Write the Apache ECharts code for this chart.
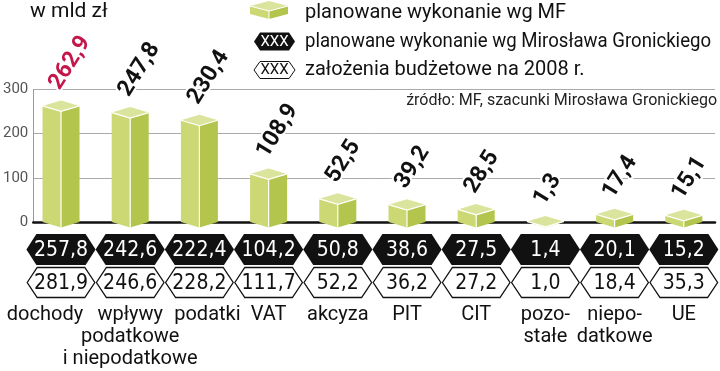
<!DOCTYPE html>
<html>
<head>
<meta charset="utf-8">
<script src="https://cdn.jsdelivr.net/npm/echarts@6/dist/echarts.min.js"></script>
<style>
  html, body { margin: 0; padding: 0; background: #fff; }
  #chart { width: 720px; height: 371px; }
</style>
</head>
<body>
<div id="chart"></div>
<script>
const categories = ['dochody', 'wpływy\npodatkowe\ni niepodatkowe', 'podatki', 'VAT', 'akcyza', 'PIT', 'CIT', 'pozo-\nstałe', 'niepo-\ndatkowe', 'UE'];
const mfValues = [262.9, 247.8, 230.4, 108.9, 52.5, 39.2, 28.5, 1.3, 17.4, 15.1];
const gronickiValues = [257.8, 242.6, 222.4, 104.2, 50.8, 38.6, 27.5, 1.4, 20.1, 15.2];
const budgetValues = [281.9, 246.6, 228.2, 111.7, 52.2, 36.2, 27.2, 1.0, 18.4, 35.3];
const yTicks = [0, 100, 200, 300];
const legendNames = ['planowane wykonanie wg MF', 'planowane wykonanie wg Mirosława Gronickiego', 'założenia budżetowe na 2008 r.'];
const unitLabel = 'w mld zł';
const sourceLabel = 'źródło: MF, szacunki Mirosława Gronickiego';

const DJ = "'DejaVu Sans', sans-serif";
const SANS = "Roboto, 'Noto Sans', sans-serif";
const fmt = v => v.toFixed(1).replace('.', ',');
const TOP_C = '#dbe49c', LEFT_C = '#cbd873', RIGHT_C = '#b3c54c';

function hexPts(cx, cy, hw, hh, ind) {
  return [[cx - hw, cy], [cx - hw + ind, cy - hh], [cx + hw - ind, cy - hh], [cx + hw, cy], [cx + hw - ind, cy + hh], [cx - hw + ind, cy + hh]];
}

function renderBar(params, api) {
  const i = api.value(0), v = api.value(1);
  const top = api.coord([i, v]);
  const base = api.coord([i, 0]);
  const cx = top[0], cy = top[1], by = base[1];
  const hw = 18.5, hh = 5.5;
  return {
    type: 'group',
    children: [
      { type: 'polygon', shape: { points: [[cx - hw, cy], [cx, cy + hh], [cx, by + hh], [cx - hw, by]] }, style: { fill: LEFT_C } },
      { type: 'polygon', shape: { points: [[cx, cy + hh], [cx + hw, cy], [cx + hw, by], [cx, by + hh]] }, style: { fill: RIGHT_C } },
      { type: 'polygon', shape: { points: [[cx - hw, cy], [cx, cy - hh], [cx + hw, cy], [cx, cy + hh]] }, style: { fill: TOP_C } },
      { type: 'polyline', shape: { points: [[cx - hw, cy], [cx, cy + hh], [cx + hw, cy]] }, style: { stroke: '#fff', lineWidth: 1.2, fill: null } },
      { type: 'line', shape: { x1: cx, y1: cy + hh, x2: cx, y2: by + hh }, style: { stroke: '#fff', lineWidth: 1.2 } }
    ]
  };
}

function makeHexRender(offset, dark) {
  return function (params, api) {
    const i = api.value(0), v = api.value(1);
    const base = api.coord([i, 0]);
    const bw = api.size([1, 0])[0];
    const cx = base[0], cy = base[1] + offset;
    const hw = bw / 2 - (dark ? 0 : 0.8);
    return {
      type: 'group',
      children: [
        { type: 'polygon', shape: { points: hexPts(cx, cy, hw, dark ? 15.5 : 15, 10) },
          style: dark ? { fill: '#111' } : { fill: '#fff', stroke: '#111', lineWidth: 1.3 } },
        { type: 'text', x: cx, y: cy + 0.5, scaleX: 0.86,
          style: { text: fmt(v), align: 'center', verticalAlign: 'middle', font: '22px ' + DJ, fill: dark ? '#fff' : '#111' } }
      ]
    };
  };
}

const chart = echarts.init(document.getElementById('chart'), null, { renderer: 'canvas' });

const legendGraphics = [
  { type: 'polygon', shape: { points: [[250, 6], [250, 14], [269, 19], [269, 11]] }, style: { fill: LEFT_C } },
  { type: 'polygon', shape: { points: [[269, 11], [269, 19], [288, 14], [288, 6]] }, style: { fill: RIGHT_C } },
  { type: 'polygon', shape: { points: [[250, 6], [269, 1], [288, 6], [269, 11]] }, style: { fill: TOP_C } },
  { type: 'polyline', shape: { points: [[250, 6], [269, 11], [288, 6]] }, style: { stroke: '#fff', lineWidth: 1, fill: null } },
  { type: 'line', shape: { x1: 269, y1: 11, x2: 269, y2: 19 }, style: { stroke: '#fff', lineWidth: 1 } },
  { type: 'polygon', shape: { points: hexPts(274.5, 41.5, 20.5, 9, 6) }, style: { fill: '#111' } },
  { type: 'text', x: 274.5, y: 42, style: { text: 'XXX', align: 'center', verticalAlign: 'middle', font: '15px ' + SANS, fill: '#fff' } },
  { type: 'polygon', shape: { points: hexPts(274.5, 70, 20.5, 8.5, 6) }, style: { fill: '#fff', stroke: '#111', lineWidth: 1 } },
  { type: 'text', x: 274.5, y: 70.5, style: { text: 'XXX', align: 'center', verticalAlign: 'middle', font: '15px ' + SANS, fill: '#111' } },
  { type: 'text', x: 305, y: 13, style: { text: legendNames[0], align: 'left', verticalAlign: 'middle', font: '20px ' + SANS, fill: '#111' } },
  { type: 'text', x: 305, y: 42, scaleX: 0.93, style: { text: legendNames[1], align: 'left', verticalAlign: 'middle', font: '20px ' + SANS, fill: '#111' } },
  { type: 'text', x: 305, y: 70, style: { text: legendNames[2], align: 'left', verticalAlign: 'middle', font: '20px ' + SANS, fill: '#111' } },
  { type: 'text', x: 30, y: 12, style: { text: unitLabel, align: 'left', verticalAlign: 'middle', font: '21px ' + SANS, fill: '#111' } },
  { type: 'text', x: 717, y: 101, style: { text: sourceLabel, align: 'right', verticalAlign: 'middle', font: '16px ' + SANS, fill: '#222' } }
];

chart.setOption({
  animation: false,
  backgroundColor: '#fff',
  grid: [
    { left: 33, right: 5, top: 89.5, bottom: 149 },
    { left: 26.4, right: 1.6, top: 89.5, bottom: 149 }
  ],
  xAxis: [
    { gridIndex: 0, type: 'value', min: 0, max: 1, axisLine: { show: true, onZero: true, lineStyle: { color: '#111', width: 2.5 } },
      axisTick: { show: false }, axisLabel: { show: false }, splitLine: { show: false } },
    { gridIndex: 1, type: 'category', data: categories, axisLine: { show: false }, axisTick: { show: false },
      axisLabel: {
        interval: 0, margin: 82, fontSize: 20, lineHeight: 22, color: '#111', fontFamily: SANS, align: 'center',
        formatter: function (value, index) {
          if (index === 0) return '{l|' + value + '}';
          if (index === 2) return '{r|' + value + '}';
          return value;
        },
        rich: {
          l: { fontSize: 20, lineHeight: 22, color: '#111', fontFamily: SANS, padding: [0, 32, 0, 0] },
          r: { fontSize: 20, lineHeight: 22, color: '#111', fontFamily: SANS, padding: [0, 0, 0, 16] }
        }
      } }
  ],
  yAxis: [
    { gridIndex: 0, type: 'value', min: yTicks[0], max: yTicks[yTicks.length - 1], interval: 100,
      axisLine: { show: true, lineStyle: { color: '#999', width: 1 } }, axisTick: { show: false },
      axisLabel: { margin: 5, fontSize: 15, color: '#555', fontFamily: SANS },
      splitLine: { show: true, lineStyle: { color: '#aaa', width: 1 } } },
    { gridIndex: 1, type: 'value', min: yTicks[0], max: yTicks[yTicks.length - 1], show: false, splitLine: { show: false } }
  ],
  series: [
    { name: legendNames[0], type: 'custom', xAxisIndex: 1, yAxisIndex: 1, renderItem: renderBar,
      data: mfValues.map((v, i) => [i, v]), z: 5 },
    { name: legendNames[0] + ' (etykiety)', type: 'bar', xAxisIndex: 1, yAxisIndex: 1, barWidth: 1, silent: true, z: 6,
      itemStyle: { color: 'rgba(0,0,0,0)' },
      data: mfValues.map((v, i) => i === 0 ? { value: v, label: { color: '#c4164a' } } : v),
      label: {
        show: true, position: 'top', distance: 0, rotate: 58, align: 'left', verticalAlign: 'middle',
        offset: [12, -15], formatter: p => fmt(p.value),
        fontFamily: SANS, fontWeight: 'bold', fontSize: 23, color: '#111',
        textBorderColor: '#fff', textBorderWidth: 4
      } },
    { name: legendNames[1], type: 'custom', xAxisIndex: 1, yAxisIndex: 1, renderItem: makeHexRender(27.5, true),
      data: gronickiValues.map((v, i) => [i, v]), z: 4 },
    { name: legendNames[2], type: 'custom', xAxisIndex: 1, yAxisIndex: 1, renderItem: makeHexRender(60.5, false),
      data: budgetValues.map((v, i) => [i, v]), z: 4 }
  ],
  graphic: legendGraphics
});
</script>
</body>
</html>
